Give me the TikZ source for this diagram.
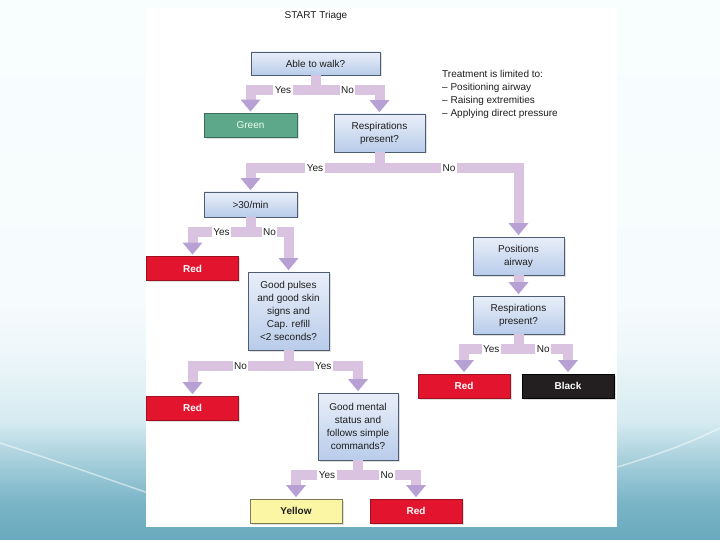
\documentclass[tikz,border=0pt]{standalone}
\usepackage{fontspec}
\setmainfont{Liberation Sans}
\usetikzlibrary{arrows.meta,shadows}

\definecolor{bgA}{HTML}{69A9BD}
\definecolor{bgB}{HTML}{7AB5C7}
\definecolor{bgC}{HTML}{A8D0DC}
\definecolor{bgD}{HTML}{D6EBF1}
\definecolor{bgF}{HTML}{EEF7FA}
\definecolor{bgG}{HTML}{F6FBFD}
\definecolor{bgE}{HTML}{F8FDFE}
\definecolor{barc}{HTML}{DAC3E1}
\definecolor{tipc}{HTML}{B7A1D4}
\definecolor{boxtop}{HTML}{E9EFF9}
\definecolor{boxbot}{HTML}{B9CCEA}
\definecolor{boxedge}{HTML}{4E5D72}
\definecolor{txt}{HTML}{1E1E1E}
\definecolor{greenfill}{HTML}{5DA88A}
\definecolor{greenedge}{HTML}{3B6E5A}
\definecolor{redfill}{HTML}{E3142D}
\definecolor{rededge}{HTML}{9E1020}
\definecolor{blackfill}{HTML}{231F20}
\definecolor{yellowfill}{HTML}{FBF6A4}
\definecolor{yellowedge}{HTML}{7E7A55}

\pgfdeclareverticalshading{bgsh}{100bp}{color(0bp)=(bgA); color(25bp)=(bgA); color(28.5bp)=(bgB); color(32.5bp)=(bgC); color(36bp)=(bgD); color(42.5bp)=(bgF); color(47bp)=(bgG); color(75bp)=(bgE); color(100bp)=(bgE)}

\tikzset{
  basefont/.style={font=\fontsize{10}{13}\selectfont},
  box/.style={draw=boxedge, line width=0.6pt, top color=boxtop, bottom color=boxbot,
    align=center, basefont, text=txt, inner sep=1pt,
    drop shadow={shadow xshift=1.5pt, shadow yshift=-1.5pt, opacity=0.25}},
  endbox/.style={draw, line width=0.6pt, align=center, basefont, inner sep=1pt,
    minimum width=92pt, minimum height=24pt,
    drop shadow={shadow xshift=1.5pt, shadow yshift=-1.5pt, opacity=0.25}},
  redbox/.style={endbox, fill=redfill, draw=rededge, text=white, font=\fontsize{10}{13}\selectfont\bfseries},
  greenbox/.style={endbox, fill=greenfill, draw=greenedge, text=white!92!green},
  blackbox/.style={endbox, fill=blackfill, draw=black, text=white, font=\fontsize{10}{13}\selectfont\bfseries},
  yellowbox/.style={endbox, fill=yellowfill, draw=yellowedge, text=txt, font=\fontsize{10}{13}\selectfont\bfseries},
  bar/.style={draw=barc, line width=10pt,
    -{Triangle[width=19pt,length=12pt,color=tipc,fill=tipc]}, shorten >=1.5pt},
  lab/.style={fill=white, inner xsep=1.5pt, inner ysep=2pt, basefont, text=txt, pos=0.25},
}

\begin{document}
\begin{tikzpicture}[x=1pt,y=-1pt]
\useasboundingbox (0,0) rectangle (720,540);
% slide background
\shade[shading=bgsh] (0,0) rectangle (720,540);
\draw[white, opacity=0.5, line width=1.5pt] (0,443) .. controls (60,462) and (110,480) .. (160,497);
\draw[white, opacity=0.5, line width=1.5pt] (600,472) .. controls (650,458) and (690,443) .. (720,428);
% white panel
\fill[white] (146,8) rectangle (617,527);

% title and note
\node[basefont, text=txt] (title) at (316,15.5) {START Triage};
\node[basefont, text=txt, anchor=north west, align=left, inner sep=0pt] (note) at (442,70.5)
  {Treatment is limited to:\\ – Positioning airway\\ – Raising extremities\\ – Applying direct pressure};

% boxes
\node[box, minimum width=129pt, minimum height=23pt] (able) at (315.5,63.5) {Able to walk?};
\node[greenbox, minimum width=93pt] (green) at (250.5,125.5) {Green};
\node[box, minimum width=91pt, minimum height=38pt] (resp1) at (379.5,133) {Respirations\\present?};
\node[box, minimum width=93pt, minimum height=25pt] (thirty) at (250.5,204.5) {>30/min};
\node[redbox] (red1) at (192.5,268.5) {Red};
\node[box, minimum width=81pt, minimum height=78pt] (pulses) at (288.5,311) {Good pulses\\and good skin\\signs and\\Cap. refill\\<2 seconds?};
\node[redbox] (red2) at (192.5,408) {Red};
\node[box, minimum width=80pt, minimum height=67pt] (mental) at (358,426.5) {Good mental\\status and\\follows simple\\commands?};
\node[yellowbox] (yellow) at (296,511) {Yellow};
\node[redbox] (red4) at (416,511) {Red};
\node[box, minimum width=91pt, minimum height=38pt] (posair) at (518.5,256) {Positions\\airway};
\node[box, minimum width=91pt, minimum height=38pt] (resp2) at (518.5,315) {Respirations\\present?};
\node[redbox] (red3) at (464,386) {Red};
\node[blackbox] (black) at (568,386) {Black};

% bar levels
\coordinate (b1) at (0,90);
\coordinate (b2) at (0,168);
\coordinate (b3) at (0,232);
\coordinate (b4) at (0,366);
\coordinate (b5) at (0,475);
\coordinate (b6) at (0,349);

% connectors
\draw[bar] (able.south) -- (able.south |- b1) -| node[lab] (l1) {Yes} (green.north);
\draw[bar] (able.south) -- (able.south |- b1) -| node[lab] (l2) {No} (resp1.north);
\draw[bar] (resp1.south) -- (resp1.south |- b2) -| node[lab] (l3) {Yes} (thirty.north);
\draw[bar] (resp1.south) -- (resp1.south |- b2) -| node[lab] (l4) {No} (posair.north);
\draw[bar] (thirty.south) -- (thirty.south |- b3) -| node[lab] (l5) {Yes} (red1.north);
\draw[bar] (thirty.south) -- (thirty.south |- b3) -| node[lab] (l6) {No} (pulses.north);
\draw[bar] (pulses.south) -- (pulses.south |- b4) -| node[lab] (l7) {No} (red2.north);
\draw[bar] (pulses.south) -- (pulses.south |- b4) -| node[lab] (l8) {Yes} (mental.north);
\draw[bar] (mental.south) -- (mental.south |- b5) -| node[lab] (l9) {Yes} (yellow.north);
\draw[bar] (mental.south) -- (mental.south |- b5) -| node[lab] (l10) {No} (red4.north);
\draw[bar] (posair.south) -- (resp2.north);
\draw[bar] (resp2.south) -- (resp2.south |- b6) -| node[lab] (l11) {Yes} (red3.north);
\draw[bar] (resp2.south) -- (resp2.south |- b6) -| node[lab] (l12) {No} (black.north);
\end{tikzpicture}
\end{document}
